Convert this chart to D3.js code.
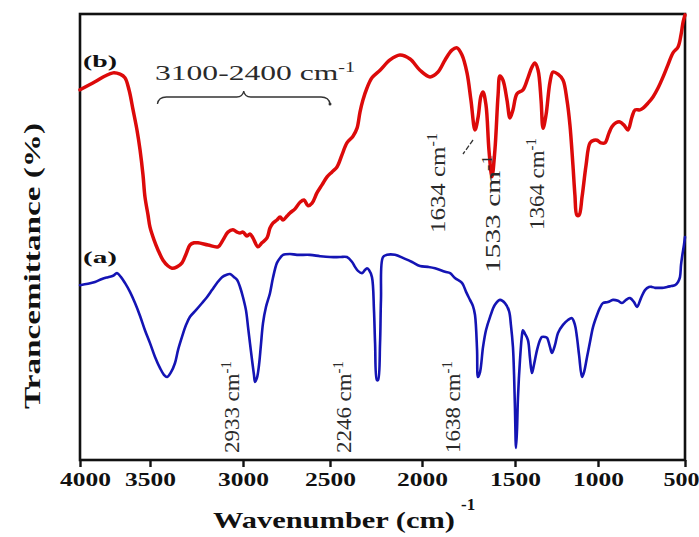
<!DOCTYPE html>
<html lang="en">
<head>
  <meta charset="UTF-8">
  <script src="https://d3js.org/d3.v7.min.js"></script>
  <title>FTIR spectra</title>
  <style>
    body { margin: 0; background: #fff; }
    svg { display: block; }
    .frame { fill: none; stroke: #111; stroke-width: 2.6px; }
    .axis path { display: none; }
    .axis line { stroke: #111; stroke-width: 2.4px; }
    .axis text { font-family: "Liberation Serif", "Times New Roman", serif; font-weight: bold; font-size: 19px; fill: #111; }
    .spectrum { fill: none; stroke-linejoin: round; stroke-linecap: round; }
    .note { font-family: "Liberation Serif", "Times New Roman", serif; fill: #2a2a2a; }
    .title { font-family: "Liberation Serif", "Times New Roman", serif; font-weight: bold; fill: #111; }
  </style>
</head>
<body>
  <svg width="699" height="537"></svg>

  <script>
    // wavenumber ticks on the bottom axis
    const ticks = [4000, 3500, 3000, 2500, 2000, 1500, 1000, 500];

    // (b) red spectrum: [wavenumber, transmittance]
    const spectrumB = [
      [4000,83.0],[3893,84.8],[3821,86.1],[3764,86.8],[3714,86.5],[3679,85.7],[3650,83.0],[3621,78.5],
      [3593,74.0],[3571,69.5],[3550,63.9],[3536,59.0],[3514,54.9],[3500,52.2],[3478,49.3],[3457,47.1],
      [3430,44.8],[3403,43.5],[3382,43.0],[3355,43.3],[3328,44.2],[3306,46.2],[3285,48.2],[3263,48.7],
      [3242,48.7],[3188,48.2],[3134,47.8],[3108,49.3],[3081,51.1],[3054,51.6],[3032,51.1],[3016,50.9],
      [3000,51.1],[2977,50.2],[2960,50.7],[2943,49.8],[2914,47.8],[2891,48.7],[2862,49.8],[2845,52.0],
      [2828,53.1],[2805,53.8],[2787,54.5],[2770,53.8],[2747,54.7],[2730,55.4],[2701,56.3],[2672,57.8],
      [2649,58.3],[2626,57.0],[2603,57.6],[2575,59.9],[2546,61.7],[2517,63.5],[2489,64.6],[2462,65.7],
      [2435,68.4],[2408,71.1],[2375,72.6],[2353,74.4],[2337,78.0],[2321,80.7],[2299,83.4],[2272,85.7],
      [2228,87.4],[2174,89.7],[2120,90.8],[2065,89.9],[2011,87.4],[1957,85.9],[1914,87.0],[1876,89.7],
      [1839,91.9],[1812,92.4],[1785,90.8],[1758,86.8],[1737,80.7],[1715,74.0],[1699,76.7],[1683,81.6],
      [1672,82.5],[1656,79.6],[1640,69.5],[1624,63.5],[1608,69.5],[1591,81.8],[1581,86.1],[1565,85.2],
      [1543,80.7],[1527,76.7],[1511,78.5],[1488,82.1],[1452,83.0],[1422,85.7],[1398,88.1],[1380,89.0],
      [1361,87.4],[1343,80.7],[1331,74.4],[1313,77.4],[1289,84.8],[1271,87.0],[1241,86.5],[1211,85.2],
      [1187,80.7],[1169,75.1],[1151,66.1],[1139,59.4],[1127,54.9],[1114,54.9],[1096,59.0],[1072,66.1],
      [1048,71.1],[1024,71.7],[1006,71.7],[983,71.1],[960,71.1],[937,73.3],[920,74.7],[897,75.6],
      [874,75.8],[851,75.1],[828,74.0],[805,76.9],[787,78.5],[759,78.5],[741,78.9],[713,80.0],
      [684,81.4],[655,83.4],[626,85.9],[598,88.6],[569,91.3],[540,92.6],[523,95.3],[511,98.2],[500,99.8]
    ];

    // (a) blue spectrum: [wavenumber, transmittance]
    const spectrumA = [
      [4000,39.2],[3943,39.5],[3893,39.9],[3843,40.6],[3800,41.0],[3764,41.3],[3736,41.9],[3707,41.0],
      [3679,39.7],[3643,37.7],[3607,35.2],[3571,32.3],[3536,29.1],[3500,26.2],[3473,23.1],[3446,20.6],
      [3425,19.1],[3409,18.6],[3387,19.7],[3366,21.7],[3349,24.7],[3328,27.6],[3306,30.3],[3285,32.1],
      [3253,33.6],[3220,35.2],[3194,36.5],[3167,38.1],[3140,39.7],[3113,41.0],[3091,41.5],[3070,41.7],
      [3048,41.0],[3032,40.4],[3016,38.8],[3000,36.5],[2983,33.6],[2971,29.8],[2960,26.2],[2948,22.4],
      [2937,19.1],[2931,17.5],[2920,18.4],[2908,21.3],[2897,25.8],[2885,30.7],[2868,34.3],[2845,37.4],
      [2828,40.8],[2805,44.2],[2787,45.3],[2770,46.0],[2730,46.2],[2690,46.0],[2615,46.0],[2557,45.7],
      [2500,45.5],[2446,45.5],[2408,45.5],[2380,44.4],[2364,43.3],[2348,42.4],[2326,41.9],[2310,42.6],
      [2299,43.0],[2288,42.6],[2272,41.0],[2261,33.6],[2255,26.2],[2245,17.9],[2239,17.9],[2228,26.2],
      [2223,35.9],[2212,45.5],[2190,46.0],[2147,46.0],[2092,45.1],[2054,44.4],[2011,43.5],[1968,43.3],
      [1930,43.0],[1876,42.2],[1849,41.9],[1823,40.8],[1785,39.7],[1763,37.7],[1742,35.9],[1726,34.5],
      [1715,32.5],[1704,24.7],[1699,18.6],[1688,19.7],[1672,25.3],[1656,29.1],[1634,32.1],[1608,34.8],
      [1581,35.9],[1554,35.2],[1532,33.4],[1522,30.3],[1511,25.3],[1505,19.1],[1500,11.2],[1494,2.7],
      [1488,6.7],[1482,14.1],[1470,22.4],[1458,28.0],[1452,29.1],[1440,28.3],[1422,26.9],[1410,22.9],
      [1398,19.5],[1386,21.3],[1367,24.7],[1349,26.9],[1337,27.6],[1319,27.6],[1307,27.4],[1289,25.3],
      [1277,24.0],[1259,25.8],[1241,28.5],[1211,30.3],[1181,31.4],[1157,31.8],[1139,30.3],[1127,27.6],
      [1114,23.5],[1096,18.6],[1084,19.7],[1066,23.1],[1048,26.5],[1030,29.8],[1006,32.5],[989,34.1],
      [971,35.2],[943,35.4],[914,35.9],[885,35.7],[862,35.2],[839,35.9],[816,36.3],[793,35.4],
      [776,34.3],[753,36.3],[730,38.1],[707,38.8],[690,38.8],[672,38.6],[655,38.6],[632,38.6],
      [603,38.8],[580,39.0],[557,39.2],[540,39.9],[529,41.0],[523,43.7],[517,45.5],[506,48.2],[500,50.0]
    ];

    // peak annotations
    const lowerPeaks = ["2933", "2246", "1638"];
    const lowerPeakAt = [3059, 2424, 1833];
    const upperPeaks = ["1634", "1533", "1364"];
    const upperPeakAt = [1914, 1618, 1367];
    const braceSpan = [3460, 2500];

    const svg = d3.select("svg");
    const m = { left: 80, right: 685, top: 14, bottom: 460 };

    // the picture's axis is not evenly spaced, so map each tick to where it sits
    const tickPx = [80, 150, 243, 330, 422, 515, 598, 685];
    const x = d3.scaleLinear().domain(ticks).range(tickPx);
    const y = d3.scaleLinear().domain([0, 100]).range([m.bottom, m.top]);

    // frame
    svg.append("rect")
      .attr("class", "frame")
      .attr("x", m.left).attr("y", m.top)
      .attr("width", m.right - m.left).attr("height", m.bottom - m.top);

    // bottom axis
    const xAxis = svg.append("g")
      .attr("class", "axis")
      .attr("transform", `translate(0,${m.bottom})`)
      .call(d3.axisBottom(x).tickValues(ticks).tickSize(7).tickPadding(6).tickFormat(d3.format("d")));
    xAxis.selectAll("text")
      .attr("x", d => d === 4000 ? 5 : d === 500 ? -4 : 0)
      .attr("textLength", d => d === 500 ? 36 : 51)
      .attr("lengthAdjust", "spacingAndGlyphs");

    const line = d3.line()
      .x(d => x(d[0]))
      .y(d => y(d[1]))
      .curve(d3.curveCatmullRom.alpha(0.5));

    svg.append("path")
      .datum(spectrumA)
      .attr("class", "spectrum")
      .attr("stroke", "#1414b4")
      .attr("stroke-width", 2.6)
      .attr("d", line);

    svg.append("path")
      .datum(spectrumB)
      .attr("class", "spectrum")
      .attr("stroke", "#dc0a0a")
      .attr("stroke-width", 3.5)
      .attr("d", line);

    // series labels
    svg.append("text").attr("class", "title")
      .attr("x", 83).attr("y", 67).attr("font-size", 16)
      .attr("textLength", 34).attr("lengthAdjust", "spacingAndGlyphs")
      .text("(b)");
    svg.append("text").attr("class", "title")
      .attr("x", 83).attr("y", 263).attr("font-size", 16)
      .attr("textLength", 34).attr("lengthAdjust", "spacingAndGlyphs")
      .text("(a)");

    // range note with brace
    const range = svg.append("text").attr("class", "note")
      .attr("x", 155).attr("y", 80).attr("font-size", 22)
      .attr("textLength", 200).attr("lengthAdjust", "spacingAndGlyphs");
    range.append("tspan").text("3100-2400 cm");
    range.append("tspan").attr("dy", -8).attr("font-size", 14).text("-1");

    const bx0 = x(braceSpan[0]), bx1 = x(braceSpan[1]), bm = (bx0 + bx1) / 2;
    svg.append("path")
      .attr("fill", "none").attr("stroke", "#333").attr("stroke-width", 1.3)
      .attr("d", `M${bx0},104 Q${bx0 + 1},97 ${bx0 + 9},97 L${bm - 7},97 Q${bm - 1},97 ${bm},91 ` +
                 `Q${bm + 1},97 ${bm + 7},97 L${bx1 - 9},97 Q${bx1 - 1},97 ${bx1},104`);
    svg.append("circle").attr("cx", bx1).attr("cy", 104).attr("r", 1.5).attr("fill", "#333");

    // rotated peak labels
    function peakLabel(txt, wn, yBase, len, size) {
      const t = svg.append("text").attr("class", "note")
        .attr("transform", `translate(${x(wn)},${yBase}) rotate(-90)`)
        .attr("dy", "0.35em")
        .attr("font-size", size)
        .attr("textLength", len).attr("lengthAdjust", "spacingAndGlyphs");
      t.append("tspan").text(txt + " cm");
      t.append("tspan").attr("dy", -8).attr("font-size", size * 0.65).text("-1");
    }
    lowerPeaks.forEach((p, i) => peakLabel(p, lowerPeakAt[i], 453, 92, 21));
    const upperBase = [233, 273, 230];
    const upperLen = [100, 118, 92];
    upperPeaks.forEach((p, i) => peakLabel(p, upperPeakAt[i], upperBase[i], upperLen[i], 21));

    // leader for 1634
    svg.append("line")
      .attr("x1", 473).attr("y1", 140).attr("x2", 463).attr("y2", 154)
      .attr("stroke", "#333").attr("stroke-width", 1.3).attr("stroke-dasharray", "5,2");

    // axis titles
    svg.append("text").attr("class", "title")
      .attr("transform", `translate(32,266) rotate(-90)`)
      .attr("text-anchor", "middle").attr("dy", "0.35em")
      .attr("font-size", 23)
      .attr("textLength", 286).attr("lengthAdjust", "spacingAndGlyphs")
      .text("Trancemittance (%)");

    const xt = svg.append("text").attr("class", "title")
      .attr("x", 213).attr("y", 528).attr("font-size", 24);
    xt.append("tspan").attr("textLength", 242).attr("lengthAdjust", "spacingAndGlyphs").text("Wavenumber (cm)");
    xt.append("tspan").attr("dx", 6).attr("dy", -18).attr("font-size", 17).text("-1");
  </script>
</body>
</html>
